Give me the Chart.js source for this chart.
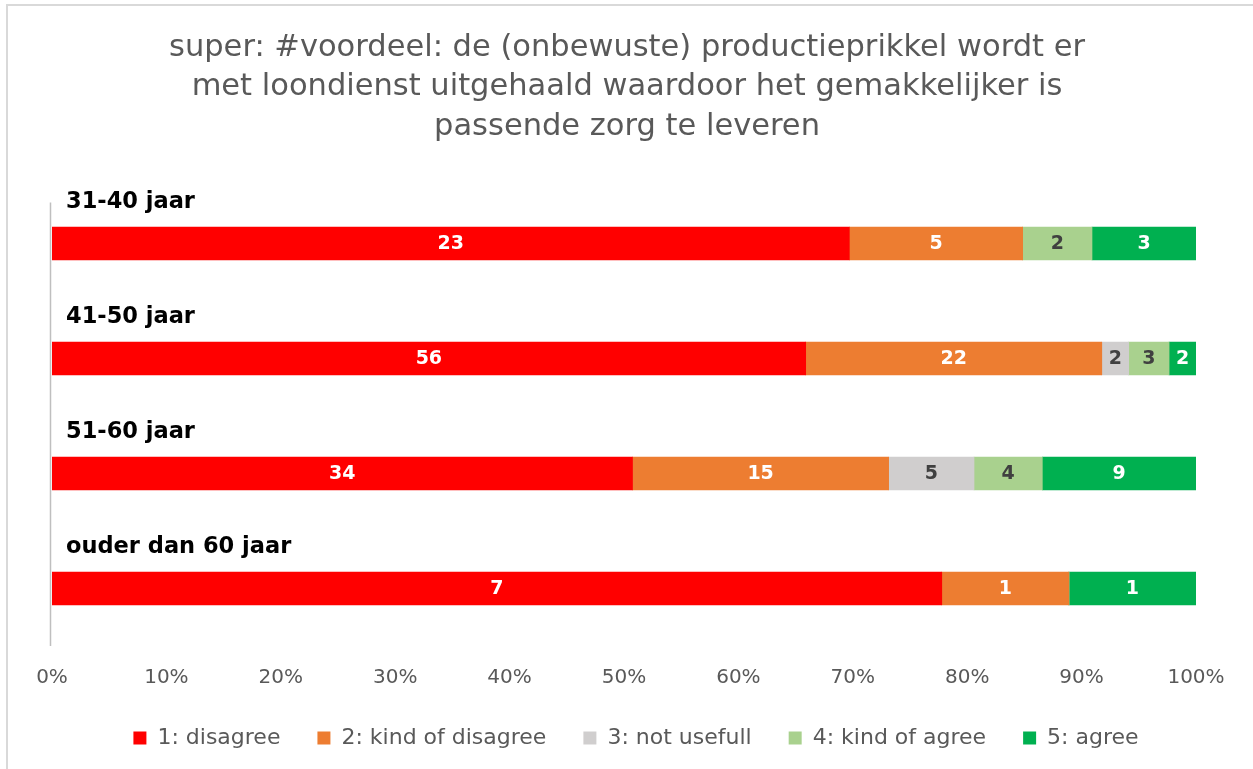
<!DOCTYPE html>
<html><head><meta charset="utf-8">
<script src="https://cdn.jsdelivr.net/npm/chart.js@4/dist/chart.umd.min.js"></script>
<style>
html,body{margin:0;padding:0;background:#fff;overflow:hidden;width:1253px;height:769px;}
#frame{position:absolute;left:6px;top:4px;width:1300px;height:800px;border:2px solid #D9D9D9;}
#wrap{position:absolute;left:0;top:0;width:1253px;height:769px;}
</style></head><body>
<div id="frame"></div>
<div id="wrap"><canvas id="c" width="1253" height="769"></canvas></div>
<script>
// ---- data ----
const titleLines = [
  'super: #voordeel: de (onbewuste) productieprikkel wordt er',
  'met loondienst uitgehaald waardoor het gemakkelijker is',
  'passende zorg te leveren'
];
const categories = ['31-40 jaar', '41-50 jaar', '51-60 jaar', 'ouder dan 60 jaar'];
const seriesNames = ['1: disagree', '2: kind of disagree', '3: not usefull', '4: kind of agree', '5: agree'];
const disagree       = [23, 56, 34, 7];
const kindOfDisagree = [5, 22, 15, 1];
const notUsefull     = [0, 2, 5, 0];
const kindOfAgree    = [2, 3, 4, 0];
const agree          = [3, 2, 9, 1];
const xTickValues    = [0, 10, 20, 30, 40, 50, 60, 70, 80, 90, 100];

// ---- styles ----
const seriesColors = ['#FF0000', '#ED7D31', '#D0CECE', '#A9D18E', '#00B050'];
const labelColors  = ['#FFFFFF', '#FFFFFF', '#404040', '#404040', '#FFFFFF'];
const FONT = '"DejaVu Sans", sans-serif';

const seriesCounts = [disagree, kindOfDisagree, notUsefull, kindOfAgree, agree];
const totals = categories.map((_, i) => seriesCounts.reduce((s, arr) => s + arr[i], 0));

const datasets = seriesNames.map((name, k) => ({
  label: name,
  data: seriesCounts[k].map((v, i) => v / totals[i] * 100),
  backgroundColor: seriesColors[k],
  borderWidth: 0,
  barThickness: 33
}));

// centre title and legend on the whole canvas, as in the original
const recenterPlugin = {
  id: 'recenter',
  afterLayout(chart) {
    const t = chart.titleBlock, l = chart.legend;
    if (t) { t.left += 17; t.right += 17; }
    if (l) { l.left += 26; l.right += 26; }
  }
};

const axisLinePlugin = {
  id: 'axisLine',
  beforeDatasetsDraw(chart) {
    const {ctx, chartArea, scales} = chart;
    const top = scales.y.getPixelForValue(0) - 41;
    ctx.save();
    ctx.strokeStyle = '#BFBFBF';
    ctx.lineWidth = 1.5;
    ctx.beginPath();
    ctx.moveTo(chartArea.left - 1.5, top);
    ctx.lineTo(chartArea.left - 1.5, chartArea.bottom);
    ctx.stroke();
    ctx.restore();
  }
};

const segmentLabelPlugin = {
  id: 'segmentLabels',
  afterDatasetsDraw(chart) {
    const ctx = chart.ctx;
    chart.data.datasets.forEach((ds, di) => {
      const meta = chart.getDatasetMeta(di);
      if (meta.hidden) return;
      meta.data.forEach((el, i) => {
        const count = seriesCounts[di][i];
        if (!count) return;
        const p = el.getProps(['x', 'base', 'y'], true);
        ctx.save();
        ctx.fillStyle = labelColors[di];
        ctx.font = 'bold 19px ' + FONT;
        ctx.textAlign = 'center';
        ctx.textBaseline = 'middle';
        ctx.fillText(String(count), (p.x + p.base) / 2, p.y + 1);
        ctx.restore();
      });
    });
  }
};

new Chart(document.getElementById('c'), {
  type: 'bar',
  data: { labels: categories, datasets },
  plugins: [recenterPlugin, axisLinePlugin, segmentLabelPlugin],
  options: {
    indexAxis: 'y',
    responsive: false,
    animation: false,
    layout: { padding: { left: 24, right: 57, top: 0, bottom: 10 } },
    scales: {
      x: {
        stacked: true,
        min: 0, max: 100,
        afterBuildTicks(scale) { scale.ticks = xTickValues.map(v => ({ value: v })); },
        afterFit(scale) { scale.height = 44; },
        grid: { display: false, drawTicks: false },
        border: { display: false },
        ticks: {
          color: '#595959',
          padding: 20,
          font: { family: FONT, size: 20 },
          callback: v => v + '%'
        }
      },
      y: {
        stacked: true,
        grid: { display: false, drawTicks: false },
        border: { display: false },
        ticks: {
          mirror: true,
          padding: 14,
          labelOffset: -41,
          color: '#000000',
          font: { family: FONT, size: 22.5, weight: 'bold' }
        }
      }
    },
    plugins: {
      title: {
        display: true,
        text: titleLines,
        color: '#595959',
        font: { family: FONT, size: 30.5, weight: 'normal', lineHeight: 1.295 },
        padding: { top: 28, bottom: 39.5 }
      },
      legend: {
        position: 'bottom',
        labels: {
          boxWidth: 13,
          boxHeight: 13,
          padding: 37,
          color: '#595959',
          font: { family: FONT, size: 22 }
        }
      },
      tooltip: { enabled: false }
    }
  }
});
</script>
</body></html>
